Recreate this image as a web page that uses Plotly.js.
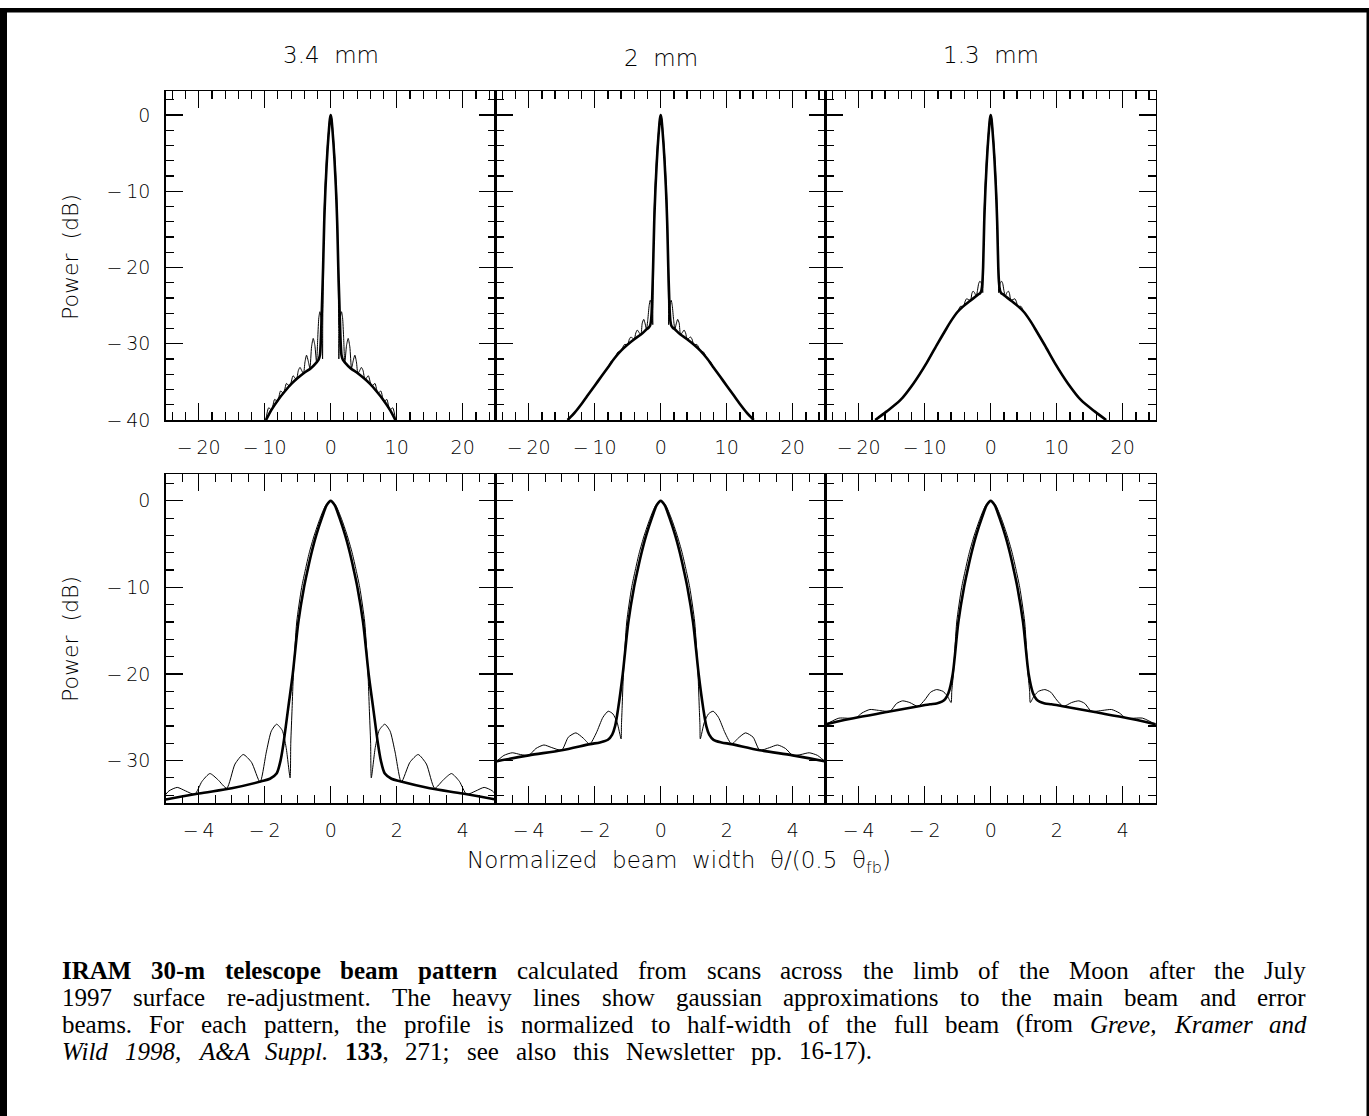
<!DOCTYPE html>
<html><head><meta charset="utf-8">
<script src="https://cdn.plot.ly/plotly-3.0.1.min.js"></script>
<style>html,body{margin:0;padding:0;background:#fff;} #chart{width:1369px;height:1116px;}</style>
</head><body><div id="chart"></div>
<script>
// ---------------- data ----------------
const panelTitles = ['3.4  mm', '2  mm', '1.3  mm'];
const topTickVals = [-20, -10, 0, 10, 20];
const topTickText = ['\u2212\u200920', '\u2212\u200910', '0', '10', '20'];
const bottomTickVals = [-4, -2, 0, 2, 4];
const bottomTickText = ['\u2212\u20094', '\u2212\u20092', '0', '2', '4'];
const powerTickVals = [0, -10, -20, -30, -40];
const powerTickText = ['0', '\u2212\u200910', '\u2212\u200920', '\u2212\u200930', '\u2212\u200940'];

// 3.4 mm : measured pattern (thin) and gaussian approximation (heavy)
const thin34X = [-9.85,-9.4,-8.95,-8.5,-8.05,-7.6,-7.15,-6.7,-6.2,-5.7,-5.2,-4.9,-4.65,-4.4,-4.12,-3.9,-3.66,-3.42,-3.15,-2.9,-2.65,-2.4,-2.14,-1.95,-1.8,-1.64,-1.47,-1.35,-1.23,-1.21,-1.17,-1.13,-1.03,-0.88,-0.77,-0.65,-0.50,-0.32,-0.15,
  0,
  0.15,0.32,0.50,0.65,0.77,0.88,1.03,1.13,1.17,1.21,1.23,1.35,1.47,1.64,1.8,1.95,2.14,2.4,2.65,2.9,3.15,3.42,3.66,3.9,4.12,4.4,4.65,4.9,5.2,5.7,6.2,6.7,7.15,7.6,8.05,8.5,8.95,9.4,9.85];
const thin34Y = [-40.1,-38.4,-38.7,-37.3,-37.6,-36.2,-36.5,-35.2,-35.6,-34.2,-34.7,-33.5,-33.1,-33.5,-33.9,-32.4,-31.5,-32.2,-33.2,-30.4,-29.3,-30.2,-32.5,-29.0,-26.6,-25.8,-26.5,-28.5,-32.0,-28.0,-24.0,-20.0,-14.0,-10.0,-8.0,-6.0,-4.0,-2.0,-0.5,
  0,
  -0.5,-2.0,-4.0,-6.0,-8.0,-10.0,-14.0,-20.0,-24.0,-28.0,-32.0,-28.5,-26.5,-25.8,-26.6,-29.0,-32.5,-30.2,-29.3,-30.4,-33.2,-32.2,-31.5,-32.4,-33.9,-33.5,-33.1,-33.5,-34.7,-34.2,-35.6,-35.2,-36.5,-36.2,-37.6,-37.3,-38.7,-38.4,-40.1];
const heavy34X = [-9.8,-9.0,-8.0,-7.0,-6.0,-5.0,-4.0,-3.0,-2.1,-1.84,-1.64,-1.52,-1.43,-1.29,-1.15,-0.98,-0.81,-0.70,-0.58,-0.44,-0.27,-0.12,
  0,
  0.12,0.27,0.44,0.58,0.70,0.81,0.98,1.15,1.29,1.43,1.52,1.64,1.84,2.1,3.0,4.0,5.0,6.0,7.0,8.0,9.0,9.8];
const heavy34Y = [-40,-38.7,-37.4,-36.3,-35.3,-34.5,-33.8,-33.2,-32.4,-32.1,-31.5,-30.0,-28.0,-24.0,-20.0,-14.0,-10.0,-8.0,-6.0,-4.0,-2.0,-0.5,
  0,
  -0.5,-2.0,-4.0,-6.0,-8.0,-10.0,-14.0,-20.0,-24.0,-28.0,-30.0,-31.5,-32.1,-32.4,-33.2,-33.8,-34.5,-35.3,-36.3,-37.4,-38.7,-40];

// 2 mm
const thin20X = [-14.1,-12,-10,-9,-8,-7.5,-7.0,-6.5,-6.0,-5.5,-5.0,-4.75,-4.5,-4.25,-4.0,-3.78,-3.54,-3.3,-3.0,-2.8,-2.57,-2.35,-2.15,-1.95,-1.75,-1.59,-1.45,-1.32,-1.20,-1.19,-1.17,-1.13,-1.03,-0.88,-0.77,-0.65,-0.50,-0.32,-0.15,
  0,
  0.15,0.32,0.50,0.65,0.77,0.88,1.03,1.13,1.17,1.19,1.20,1.32,1.45,1.59,1.75,1.95,2.15,2.35,2.57,2.8,3.0,3.3,3.54,3.78,4.0,4.25,4.5,4.75,5.0,5.5,6.0,6.5,7.0,7.5,8,9,10,12,14.1];
const thin20Y = [-40,-37.9,-35.5,-34.3,-33.1,-32.3,-31.9,-31.1,-30.9,-30.1,-30.1,-29.4,-29.1,-29.3,-29.4,-28.6,-28.2,-28.5,-28.8,-27.3,-26.8,-27.4,-28.1,-26.8,-25.0,-24.3,-24.6,-25.6,-27.5,-26.0,-24.0,-20.0,-14.0,-10.0,-8.0,-6.0,-4.0,-2.0,-0.5,
  0,
  -0.5,-2.0,-4.0,-6.0,-8.0,-10.0,-14.0,-20.0,-24.0,-26.0,-27.5,-25.6,-24.6,-24.3,-25.0,-26.8,-28.1,-27.4,-26.8,-27.3,-28.8,-28.5,-28.2,-28.6,-29.4,-29.3,-29.1,-29.4,-30.1,-30.1,-30.9,-31.1,-31.9,-32.3,-33.1,-34.3,-35.5,-37.9,-40];
const heavy20X = [-14.1,-13,-12,-11,-10,-9,-8,-7,-6,-5,-4,-3,-2.14,-1.84,-1.6,-1.47,-1.38,-1.29,-1.15,-0.98,-0.81,-0.70,-0.58,-0.44,-0.27,-0.12,
  0,
  0.12,0.27,0.44,0.58,0.70,0.81,0.98,1.15,1.29,1.38,1.47,1.6,1.84,2.14,3,4,5,6,7,8,9,10,11,12,13,14.1];
const heavy20Y = [-40,-39.0,-37.9,-36.7,-35.5,-34.3,-33.1,-31.9,-30.9,-30.1,-29.4,-28.8,-28.1,-27.9,-27.6,-27.0,-26.0,-24.0,-20.0,-14.0,-10.0,-8.0,-6.0,-4.0,-2.0,-0.5,
  0,
  -0.5,-2.0,-4.0,-6.0,-8.0,-10.0,-14.0,-20.0,-24.0,-26.0,-27.0,-27.6,-27.9,-28.1,-28.8,-29.4,-30.1,-30.9,-31.9,-33.1,-34.3,-35.5,-36.7,-37.9,-39.0,-40];

// 1.3 mm
const thin13X = [-17.5,-15.8,-13.7,-11.7,-9.7,-8.2,-6.7,-6.0,-5.0,-4.6,-4.1,-3.9,-3.66,-3.4,-3.05,-2.85,-2.67,-2.45,-2.2,-2.0,-1.82,-1.64,-1.45,-1.32,-1.20,-1.18,-1.13,-1.03,-0.88,-0.77,-0.65,-0.50,-0.32,-0.15,
  0,
  0.15,0.32,0.50,0.65,0.77,0.88,1.03,1.13,1.18,1.20,1.32,1.45,1.64,1.82,2.0,2.2,2.45,2.67,2.85,3.05,3.4,3.66,3.9,4.1,4.6,5.0,6.0,6.7,8.2,9.7,11.7,13.7,15.8,17.5];
const thin13Y = [-40,-38.9,-37.4,-35.2,-32.5,-30.2,-28.0,-27.0,-25.8,-25.1,-25.1,-24.5,-24.1,-24.2,-24.3,-23.4,-23.1,-23.3,-23.75,-23.0,-22.1,-21.8,-22.0,-22.5,-23.3,-22.0,-20.0,-14.0,-10.0,-8.0,-6.0,-4.0,-2.0,-0.5,
  0,
  -0.5,-2.0,-4.0,-6.0,-8.0,-10.0,-14.0,-20.0,-22.0,-23.3,-22.5,-22.0,-21.8,-22.1,-23.0,-23.75,-23.3,-23.1,-23.4,-24.3,-24.2,-24.1,-24.5,-25.1,-25.1,-25.8,-27.0,-28.0,-30.2,-32.5,-35.2,-37.4,-38.9,-40];
const heavy13X = [-17.5,-15.8,-13.7,-11.7,-9.7,-8.2,-6.7,-6.0,-5.0,-4.16,-3.15,-2.14,-1.84,-1.64,-1.48,-1.38,-1.28,-1.15,-0.98,-0.81,-0.70,-0.58,-0.44,-0.27,-0.12,
  0,
  0.12,0.27,0.44,0.58,0.70,0.81,0.98,1.15,1.28,1.38,1.48,1.64,1.84,2.14,3.15,4.16,5.0,6.0,6.7,8.2,9.7,11.7,13.7,15.8,17.5];
const heavy13Y = [-40,-38.9,-37.4,-35.2,-32.5,-30.2,-28.0,-27.0,-25.8,-25.1,-24.4,-23.7,-23.5,-23.4,-23.2,-22.9,-22.2,-20.0,-14.0,-10.0,-8.0,-6.0,-4.0,-2.0,-0.5,
  0,
  -0.5,-2.0,-4.0,-6.0,-8.0,-10.0,-14.0,-20.0,-22.2,-22.9,-23.2,-23.4,-23.5,-23.7,-24.4,-25.1,-25.8,-27.0,-28.0,-30.2,-32.5,-35.2,-37.4,-38.9,-40];

const captionLines = [
  '<b>IRAM 30-m telescope beam pattern</b> calculated from scans across the limb of the Moon after the July',
  '1997 surface re-adjustment. The heavy lines show gaussian approximations to the main beam and error',
  'beams. For each pattern, the profile is normalized to half-width of the full beam (from <i>Greve, Kramer and</i>',
  '<i>Wild 1998, A&A Suppl.</i> <b>133</b>, 271; see also this Newsletter pp. 16-17).'
];

// ---------------- layout ----------------
const W = 1369, H = 1116;
const fx = p => p / W, fy = p => 1 - p / H;
const colPx = [[165.7, 495.7], [495.7, 825.7], [825.7, 1155.7]];
const rowPx = [[91, 420], [474, 803]];
const plotFont = '"DejaVu Sans", sans-serif';
const plotWeight = 200;

const series = [
  {tx: thin34X, ty: thin34Y, hx: heavy34X, hy: heavy34Y},
  {tx: thin20X, ty: thin20Y, hx: heavy20X, hy: heavy20Y},
  {tx: thin13X, ty: thin13Y, hx: heavy13X, hy: heavy13Y}
];

const layout = {
  width: W, height: H,
  margin: {l: 0, r: 0, t: 0, b: 0},
  paper_bgcolor: 'white', plot_bgcolor: 'white',
  showlegend: false,
  font: {family: plotFont, color: 'black', size: 19, weight: plotWeight},
  annotations: [], shapes: []
};
const traces = [];

const axisCommon = {
  showline: true, linecolor: 'black', linewidth: 1.5, mirror: 'allticks',
  ticks: 'inside', ticklen: 17, tickwidth: 1.2, tickcolor: 'black',
  showgrid: false, zeroline: false, fixedrange: true,
  tickfont: {family: plotFont, size: 19, color: 'black', weight: plotWeight}
};
const minorCommon = {ticks: 'inside', ticklen: 8, tickwidth: 1.2, tickcolor: 'black', showgrid: false};

for (let r = 0; r < 2; r++) {
  for (let c = 0; c < 3; c++) {
    const idx = r * 3 + c + 1;
    const sfx = idx === 1 ? '' : String(idx);
    layout['xaxis' + sfx] = Object.assign({}, axisCommon, {
      domain: [fx(colPx[c][0]), fx(colPx[c][1])],
      anchor: 'y' + sfx,
      range: r === 0 ? [-25, 25] : [-5, 5],
      tickmode: 'array',
      tickvals: r === 0 ? topTickVals : bottomTickVals,
      ticktext: r === 0 ? topTickText : bottomTickText,
      minor: Object.assign({}, minorCommon, {tickmode: 'linear', tick0: 0, dtick: r === 0 ? 2 : 0.5}),
      ticklabelstandoff: 10
    });
    layout['yaxis' + sfx] = Object.assign({}, axisCommon, {
      domain: [fy(rowPx[r][1]), fy(rowPx[r][0])],
      anchor: 'x' + sfx,
      range: r === 0 ? [-40, 3.15] : [-34.9, 3.1],
      tickmode: 'array',
      tickvals: powerTickVals,
      ticktext: powerTickText,
      minor: Object.assign({}, minorCommon, {tickmode: 'linear', tick0: 0, dtick: 2}),
      showticklabels: c === 0,
      ticklabelstandoff: 10
    });
    const s = series[c];
    traces.push({x: s.tx, y: s.ty, xaxis: 'x' + sfx, yaxis: 'y' + sfx, mode: 'lines',
      line: {color: 'black', width: 1, shape: 'spline', smoothing: 0.6}, hoverinfo: 'skip'});
    traces.push({x: s.hx, y: s.hy, xaxis: 'x' + sfx, yaxis: 'y' + sfx, mode: 'lines',
      line: {color: 'black', width: 2.6, shape: 'spline', smoothing: 0.8}, hoverinfo: 'skip'});
  }
}

const labelFont = {family: plotFont, size: 23, color: 'black', weight: plotWeight};
// panel titles
const titleY = [55, 58, 55];
panelTitles.forEach((t, c) => {
  layout.annotations.push({xref: 'paper', yref: 'paper', x: fx((colPx[c][0] + colPx[c][1]) / 2), y: fy(titleY[c]),
    text: t, showarrow: false, xanchor: 'center', yanchor: 'middle', font: labelFont});
});
// y axis titles
[257, 639].forEach(yc => {
  layout.annotations.push({xref: 'paper', yref: 'paper', x: fx(70), y: fy(yc), text: 'Power  (dB)', textangle: -90,
    showarrow: false, xanchor: 'center', yanchor: 'middle', font: Object.assign({}, labelFont, {size: 22})});
});
// x axis title
layout.annotations.push({xref: 'paper', yref: 'paper', x: fx(679), y: fy(862),
  text: 'Normalized  beam  width  θ/(0.5  θ<sub>fb</sub>)', showarrow: false,
  xanchor: 'center', yanchor: 'middle', font: labelFont});

// outer frame
const blk = {type: 'rect', xref: 'paper', yref: 'paper', fillcolor: 'black', line: {width: 0}, layer: 'above'};
layout.shapes.push(Object.assign({}, blk, {x0: 0, x1: fx(7), y0: 0, y1: fy(8)}));
layout.shapes.push(Object.assign({}, blk, {x0: 0, x1: 1, y0: fy(12.5), y1: fy(8)}));
layout.shapes.push(Object.assign({}, blk, {x0: fx(1366.5), x1: 1, y0: 0, y1: fy(8)}));

// caption (justified, word by word)
const capFont = 'Liberation Serif', capSize = 25;
const capLeft = 62, capRight = 1306, capLastRight = 872, capY = [970, 997, 1024, 1051];
const cv = document.createElement('canvas').getContext('2d');
function lineWords(line) {
  const parts = line.split(/(<\/?[bi]>)/);
  let b = false, it = false; const words = []; let cur = [];
  for (const p of parts) {
    if (p === '<b>') { b = true; continue; } if (p === '</b>') { b = false; continue; }
    if (p === '<i>') { it = true; continue; } if (p === '</i>') { it = false; continue; }
    const pieces = p.split(' ');
    pieces.forEach((w, k) => {
      if (k > 0) { if (cur.length) words.push(cur); cur = []; }
      if (w.length) cur.push({t: w, b: b, i: it});
    });
  }
  if (cur.length) words.push(cur);
  return words;
}
function measure(seg) {
  cv.font = (seg.i ? 'italic ' : '') + (seg.b ? 'bold ' : '') + capSize + 'px "' + capFont + '"';
  return cv.measureText(seg.t).width;
}
const lineData = captionLines.map(line => {
  const words = lineWords(line);
  const widths = words.map(w => w.reduce((a, s) => a + measure(s), 0));
  const total = widths.reduce((a, b) => a + b, 0);
  return {words, widths, total};
});
lineData.forEach((d, li) => {
  const right = li < lineData.length - 1 ? capRight : capLastRight;
  const gap = Math.max(5, (right - capLeft - d.total) / (d.words.length - 1));
  let pos = capLeft;
  d.words.forEach((w, k) => {
    const text = w.map(s => {
      let t = s.t.replace(/&/g, '&amp;');
      if (s.i) t = '<i>' + t + '</i>';
      if (s.b) t = '<b>' + t + '</b>';
      return t;
    }).join('');
    layout.annotations.push({xref: 'paper', yref: 'paper', x: fx(pos), y: fy(capY[li]), text: text,
      showarrow: false, xanchor: 'left', yanchor: 'middle', borderpad: 0, borderwidth: 0,
      font: {family: capFont, size: capSize, color: 'black'}});
    pos += d.widths[k] + gap;
  });
});

Plotly.newPlot('chart', traces, layout, {staticPlot: true, displayModeBar: false});
</script></body></html>
